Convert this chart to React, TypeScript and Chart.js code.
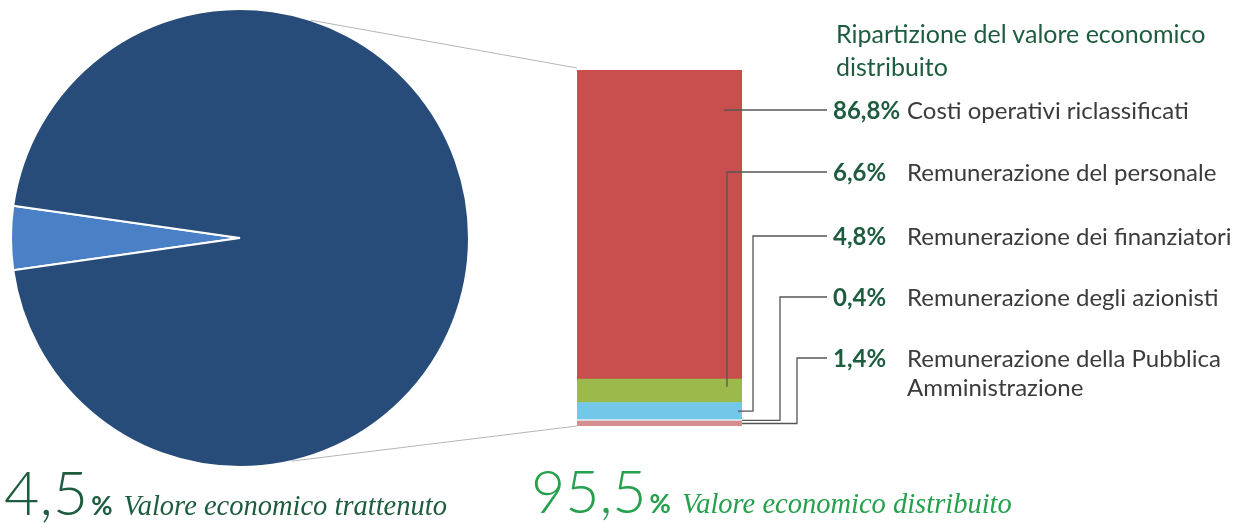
import React, { useEffect, useRef } from "react";
import { Chart, registerables } from "chart.js";

Chart.register(...registerables);

// ---- data ----
const pieLabels = ["Valore economico trattenuto", "Valore economico distribuito"];
const pieValues = [4.5, 95.5];
const pieColors = ["#4a80c6", "#284c79"];

// legend order, top of the bar first
const barCategories = [
  "Costi operativi riclassificati",
  "Remunerazione del personale",
  "Remunerazione dei finanziatori",
  "Remunerazione degli azionisti",
  "Remunerazione della Pubblica Amministrazione",
];
const barValues = [86.8, 6.6, 4.8, 0.4, 1.4];
const barValueLabels = ["86,8%", "6,6%", "4,8%", "0,4%", "1,4%"];
const barColors = ["#c84f4e", "#9bba4b", "#73c8ea", "#e4eef0", "#d58e90"];
const labelLines = [
  ["Costi operativi riclassificati"],
  ["Remunerazione del personale"],
  ["Remunerazione dei finanziatori"],
  ["Remunerazione degli azionisti"],
  ["Remunerazione della Pubblica", "Amministrazione"],
];

const totalRetained = "4,5";
const totalDistributed = "95,5";

// ---- layout ----
const W = 1243;
const H = 529;
const PIE_CX = 240;
const PIE_CY = 238;
const PIE_R = 229;
const BAR_LEFT = 577;
const BAR_RIGHT = 742;
const BAR_TOP = 70;
const BAR_BOTTOM = 426;
const LABEL_LINE_X = 827;
const LABEL_Y = [110, 172, 236, 297, 358];
const ELBOW_X = [null, 727, 753, 780, 797];

const DARK_GREEN = "#1d5c3f";
const LIGHT_GREEN = "#25a04c";
const TEXT_GRAY = "#3b3b3b";

export default function App() {
  const pieRef = useRef<HTMLCanvasElement | null>(null);
  const barRef = useRef<HTMLCanvasElement | null>(null);

  useEffect(() => {
    document.body.style.margin = "0";
    const pieCanvas = pieRef.current!;
    const barCanvas = barRef.current!;
    const startDeg = 180 - (pieValues[0] / 100) * 180;

    const pie = new Chart(pieCanvas, {
      type: "pie",
      data: {
        labels: pieLabels,
        datasets: [
          {
            data: pieValues,
            backgroundColor: pieColors,
            borderColor: "#ffffff",
            borderWidth: 2,
          },
        ],
      },
      options: {
        responsive: false,
        animation: false,
        rotation: startDeg + 90,
        layout: {
          padding: {
            left: PIE_CX - PIE_R - 1,
            top: PIE_CY - PIE_R - 1,
            right: W - (PIE_CX + PIE_R + 1),
            bottom: H - (PIE_CY + PIE_R + 1),
          },
        },
        plugins: { legend: { display: false }, tooltip: { enabled: false } },
      },
    });

    const leaderPlugin = {
      id: "leaders",
      afterDatasetsDraw(chart: any) {
        const ctx = chart.ctx;
        const arc: any = pie.getDatasetMeta(0).data[0];
        const cx = arc ? arc.x : PIE_CX;
        const cy = arc ? arc.y : PIE_CY;
        const r = arc ? arc.outerRadius : PIE_R;
        const n = barValues.length;
        const metas = barValues.map((_, i) => chart.getDatasetMeta(n - 1 - i).data[0]);
        const top: any = metas[0];
        const bottom: any = metas[n - 1];
        const barL = top.x - top.width / 2;
        const barR = top.x + top.width / 2;

        ctx.save();
        // zoom lines from pie to bar
        ctx.strokeStyle = "#b5b5b5";
        ctx.lineWidth = 1;
        const a1 = (-72 * Math.PI) / 180;
        const a2 = (77 * Math.PI) / 180;
        ctx.beginPath();
        ctx.moveTo(cx + r * Math.cos(a1), cy + r * Math.sin(a1));
        ctx.lineTo(barL, top.y - 2);
        ctx.moveTo(cx + r * Math.cos(a2), cy + r * Math.sin(a2));
        ctx.lineTo(barL, bottom.base);
        ctx.stroke();

        // leader lines
        ctx.strokeStyle = "#555555";
        ctx.lineWidth = 1.3;
        metas.forEach((el: any, i: number) => {
          const mid = (el.y + el.base) / 2;
          const ly = LABEL_Y[i];
          ctx.beginPath();
          if (i === 0) {
            ctx.moveTo(barR - 18, ly);
            ctx.lineTo(LABEL_LINE_X, ly);
          } else if (i === 1) {
            const ex = ELBOW_X[i] as number;
            ctx.moveTo(LABEL_LINE_X, ly);
            ctx.lineTo(ex, ly);
            ctx.lineTo(ex, mid - 4);
          } else {
            const ex = ELBOW_X[i] as number;
            ctx.moveTo(LABEL_LINE_X, ly);
            ctx.lineTo(ex, ly);
            ctx.lineTo(ex, mid);
            ctx.lineTo(barR - (i === 2 ? 4 : 0), mid);
          }
          ctx.stroke();
        });
        ctx.restore();
      },
    };

    const order = barValues.map((_, i) => barValues.length - 1 - i);
    const bar = new Chart(barCanvas, {
      type: "bar",
      data: {
        labels: ["Valore economico distribuito"],
        datasets: order.map((i) => ({
          label: barCategories[i],
          data: [barValues[i]],
          backgroundColor: barColors[i],
          borderWidth: 0,
          categoryPercentage: 1,
          barPercentage: 1,
          stack: "s",
        })),
      },
      options: {
        responsive: false,
        animation: false,
        layout: {
          padding: { left: BAR_LEFT, right: W - BAR_RIGHT, top: BAR_TOP, bottom: H - BAR_BOTTOM },
        },
        scales: {
          x: { stacked: true, display: false },
          y: { stacked: true, display: false, min: 0, max: 100 },
        },
        plugins: { legend: { display: false }, tooltip: { enabled: false } },
      },
      plugins: [leaderPlugin],
    });

    return () => {
      bar.destroy();
      pie.destroy();
    };
  }, []);

  const font = "Lato, 'Noto Sans', sans-serif";

  return (
    <div style={{ position: "relative", width: W, height: H, overflow: "hidden", background: "#fff" }}>
      <canvas ref={pieRef} width={W} height={H} style={{ position: "absolute", left: 0, top: 0 }} />
      <canvas ref={barRef} width={W} height={H} style={{ position: "absolute", left: 0, top: 0 }} />

      <div
        style={{
          position: "absolute",
          left: 836,
          top: 17,
          fontFamily: font,
          fontSize: 25,
          lineHeight: "33px",
          color: DARK_GREEN,
          whiteSpace: "nowrap",
        }}
      >
        Ripartizione del valore economico
        <br />
        distribuito
      </div>

      {barValueLabels.map((v, i) => (
        <div key={i}>
          <div
            style={{
              position: "absolute",
              left: 833,
              top: LABEL_Y[i] - 15,
              fontFamily: font,
              fontSize: 24,
              fontWeight: 700,
              lineHeight: "30px",
              color: DARK_GREEN,
              whiteSpace: "nowrap",
            }}
          >
            {v}
          </div>
          <div
            style={{
              position: "absolute",
              left: 907,
              top: LABEL_Y[i] - 15,
              fontFamily: font,
              fontSize: 24,
              lineHeight: "29px",
              color: TEXT_GRAY,
              whiteSpace: "nowrap",
            }}
          >
            {labelLines[i].map((l, j) => (
              <div key={j}>{l}</div>
            ))}
          </div>
        </div>
      ))}

      <div
        style={{
          position: "absolute",
          left: 4,
          top: 455,
          display: "flex",
          alignItems: "baseline",
          whiteSpace: "nowrap",
          color: DARK_GREEN,
        }}
      >
        <span style={{ fontFamily: font, fontWeight: 300, fontSize: 61 }}>{totalRetained}</span>
        <span style={{ fontFamily: font, fontWeight: 700, fontSize: 26, marginLeft: 3 }}>%</span>
        <span style={{ fontFamily: "'Liberation Serif', serif", fontStyle: "italic", fontSize: 28.5, marginLeft: 11 }}>
          {pieLabels[0]}
        </span>
      </div>

      <div
        style={{
          position: "absolute",
          left: 531,
          top: 455,
          display: "flex",
          alignItems: "baseline",
          whiteSpace: "nowrap",
          color: LIGHT_GREEN,
        }}
      >
        <span style={{ fontFamily: font, fontWeight: 300, fontSize: 59 }}>{totalDistributed}</span>
        <span style={{ fontFamily: font, fontWeight: 700, fontSize: 26, marginLeft: 3 }}>%</span>
        <span style={{ fontFamily: "'Liberation Serif', serif", fontStyle: "italic", fontSize: 28.5, marginLeft: 11 }}>
          {pieLabels[1]}
        </span>
      </div>
    </div>
  );
}
